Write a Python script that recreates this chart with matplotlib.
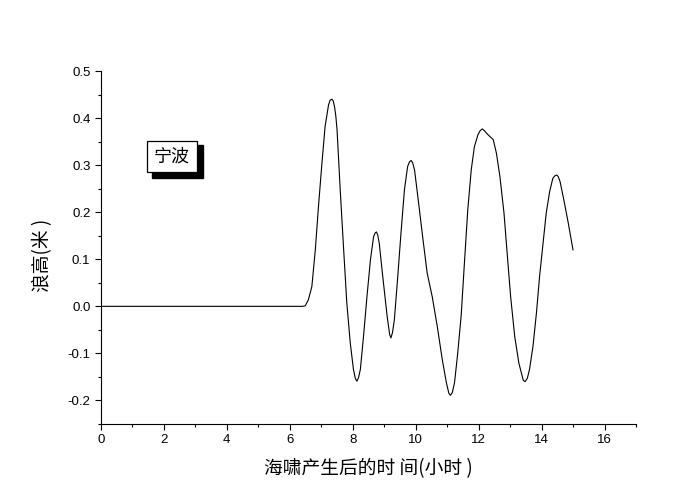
import matplotlib
matplotlib.use('Agg')
from matplotlib import pyplot as plt
from matplotlib.ticker import MultipleLocator, FormatStrFormatter
from matplotlib.patches import Rectangle

plt.rcParams['font.family'] = ['Noto Sans CJK SC', 'DejaVu Sans']

# time after tsunami (hours) and wave height (m)
hours = [0.0, 3.0, 6.0, 6.40, 6.49, 6.59, 6.70, 6.81, 6.91, 7.02, 7.12, 7.23, 7.28, 7.34,
         7.38, 7.42, 7.46, 7.50, 7.60, 7.71, 7.81, 7.92, 8.02, 8.08, 8.13, 8.18, 8.24,
         8.34, 8.45, 8.56, 8.66, 8.71, 8.75, 8.79, 8.84, 8.95, 9.09, 9.17, 9.21, 9.26,
         9.32, 9.42, 9.53, 9.64, 9.74, 9.80, 9.85, 9.90, 9.96, 10.09, 10.23, 10.36,
         10.52, 10.68, 10.84, 10.97, 11.05, 11.10, 11.16, 11.23, 11.33, 11.44, 11.55,
         11.65, 11.76, 11.86, 11.97, 12.04, 12.11, 12.18, 12.27, 12.46, 12.56, 12.67,
         12.80, 12.90, 13.01, 13.14, 13.27, 13.41, 13.47, 13.54, 13.61, 13.72, 13.83,
         13.93, 14.04, 14.14, 14.25, 14.35, 14.41, 14.47, 14.52, 14.58, 14.70, 14.84,
         14.99]
height = [0.0, 0.0, 0.0, 0.0, 0.001, 0.014, 0.042, 0.120, 0.212, 0.304, 0.382, 0.428, 0.438, 0.440,
          0.436, 0.424, 0.405, 0.375, 0.248, 0.120, 0.007, -0.078, -0.134, -0.153, -0.159, -0.152, -0.134,
          -0.064, 0.021, 0.099, 0.148, 0.156, 0.158, 0.152, 0.134, 0.064, -0.021, -0.060, -0.067, -0.056,
          -0.028, 0.057, 0.156, 0.248, 0.297, 0.307, 0.310, 0.305, 0.290, 0.219, 0.141, 0.071,
          0.021, -0.042, -0.113, -0.162, -0.185, -0.189, -0.183, -0.162, -0.10, -0.02, 0.099,
          0.205, 0.290, 0.339, 0.364, 0.373, 0.377, 0.373, 0.366, 0.354, 0.325, 0.276,
          0.198, 0.113, 0.021, -0.064, -0.120, -0.157, -0.160, -0.153, -0.134, -0.085, -0.014,
          0.064, 0.134, 0.198, 0.244, 0.272, 0.277, 0.279, 0.276, 0.265, 0.226, 0.177,
          0.120]

station = '宁波'
xlabel = '海啸产生后的时 间(小时 )'
ylabel = '浪高(米 )'

fig = plt.figure(figsize=(7, 5), dpi=100)
ax = fig.add_axes([0.144, 0.152, 0.765, 0.706])

ax.plot(hours, height, color='black', linewidth=0.8)

ax.set_xlim(0, 17)
ax.set_ylim(-0.25, 0.5)
ax.xaxis.set_major_locator(MultipleLocator(2))
ax.xaxis.set_minor_locator(MultipleLocator(1))
ax.yaxis.set_major_locator(MultipleLocator(0.1))
ax.yaxis.set_minor_locator(MultipleLocator(0.05))
ax.yaxis.set_major_formatter(FormatStrFormatter('%.1f'))

ax.spines['top'].set_visible(False)
ax.spines['right'].set_visible(False)
for s in ('left', 'bottom'):
    ax.spines[s].set_linewidth(0.8)
ax.tick_params(which='major', direction='out', length=4.5, width=0.8,
               labelsize=9.5, pad=3)
ax.tick_params(which='minor', direction='out', length=2.5, width=0.8)
for lbl in ax.get_xticklabels() + ax.get_yticklabels():
    lbl.set_family(['Liberation Sans', 'DejaVu Sans'])

ax.set_xlabel(xlabel, fontsize=13.5, va='center')
ax.set_ylabel(ylabel, fontsize=13.5, va='center')
ax.xaxis.set_label_coords(0.499, -0.125)
ax.yaxis.set_label_coords(-0.108, 0.479)

# legend-like label box with a drop shadow (figure pixels)
W, H = 700, 500
shadow = Rectangle((152 / W, 1 - 178 / H), 51 / W, 33 / H, transform=fig.transFigure,
                   facecolor='black', edgecolor='black', zorder=5)
box = Rectangle((147 / W, 1 - 172 / H), 50 / W, 31 / H, transform=fig.transFigure,
                facecolor='white', edgecolor='black', linewidth=0.9, zorder=6)
fig.patches.extend([shadow, box])
fig.text(172 / W, 1 - 157 / H, station, fontsize=13, ha='center', va='center', zorder=7)

fig.savefig('out.png', dpi=100)
